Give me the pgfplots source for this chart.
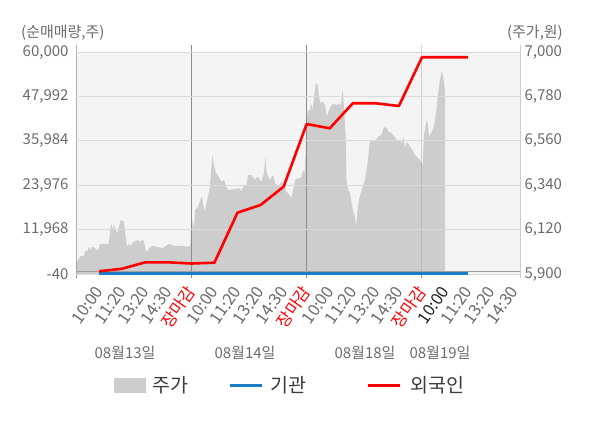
\documentclass[border=0pt]{standalone}
\usepackage{pgfplots}
\usepackage{pgfplotstable}
\pgfplotsset{compat=1.18}
\usepackage{fontspec}
\setmainfont{Noto Sans CJK KR}
\definecolor{txtgray}{HTML}{6B6B6B}
\definecolor{bggray}{HTML}{F4F4F4}
\definecolor{gridgray}{HTML}{DADADA}
\definecolor{areagray}{HTML}{CDCDCD}
\definecolor{sepgray}{HTML}{8C8C8C}
\definecolor{axgray}{HTML}{A0A0A0}
\definecolor{lightax}{HTML}{CCCCCC}
\definecolor{instblue}{HTML}{1C7DC6}
\definecolor{forred}{HTML}{FF0000}
\definecolor{darktxt}{HTML}{222222}
\definecolor{legtxt}{HTML}{3C3C3C}

% price (right axis)
\pgfplotstableread{
x v
0.00 5959
0.13 5974
0.20 5989
0.35 5989
0.42 6019
0.49 6010
0.56 6035
0.64 6019
0.69 6035
0.85 6027
0.95 6015
1.04 6049
1.43 6049
1.47 6110
1.53 6153
1.60 6118
1.65 6148
1.72 6118
1.79 6103
1.86 6134
1.94 6168
2.08 6159
2.15 6085
2.22 6035
2.30 6052
2.37 6035
2.44 6052
2.51 6060
2.66 6068
2.80 6060
2.87 6072
2.95 6060
3.02 6019
3.09 6010
3.16 6027
3.31 6039
3.52 6035
3.74 6027
4.03 6049
4.25 6039
4.68 6039
4.82 6035
4.96 6039
5.00 6176
5.03 6168
5.11 6126
5.17 6217
5.29 6233
5.41 6275
5.46 6283
5.51 6250
5.58 6209
5.65 6250
5.72 6283
5.80 6325
5.86 6415
5.91 6490
5.98 6440
6.08 6399
6.19 6382
6.30 6357
6.42 6366
6.52 6333
6.59 6316
6.81 6320
7.10 6325
7.17 6308
7.24 6333
7.38 6341
7.46 6391
7.60 6391
7.75 6366
7.89 6382
8.03 6357
8.15 6399
8.21 6481
8.27 6399
8.40 6366
8.54 6391
8.64 6349
8.76 6333
8.90 6357
9.05 6333
9.12 6308
9.26 6291
9.33 6275
9.41 6316
9.51 6366
9.62 6374
9.71 6374
9.77 6382
9.85 6415
9.91 6399
9.95 6481
10.00 6679
10.07 6713
10.14 6704
10.19 6746
10.26 6713
10.33 6787
10.40 6845
10.48 6837
10.53 6779
10.61 6746
10.69 6754
10.75 6746
10.81 6729
10.87 6679
10.94 6704
11.04 6729
11.15 6746
11.30 6737
11.41 6746
11.47 6729
11.56 6812
11.63 6713
11.69 6580
11.73 6366
11.80 6316
11.88 6300
11.95 6250
12.02 6209
12.09 6184
12.14 6134
12.19 6201
12.27 6267
12.34 6300
12.43 6333
12.53 6366
12.60 6415
12.67 6481
12.74 6556
12.82 6564
12.96 6556
13.10 6580
13.25 6589
13.35 6630
13.47 6622
13.54 6605
13.68 6597
13.83 6580
13.93 6556
14.04 6564
14.12 6548
14.19 6580
14.26 6531
14.36 6556
14.48 6531
14.59 6514
14.69 6490
14.79 6478
14.91 6465
15.03 6440
15.08 6580
15.17 6647
15.23 6663
15.31 6580
15.42 6605
15.49 6622
15.56 6655
15.64 6729
15.70 6795
15.78 6861
15.85 6902
15.92 6878
16.00 6812
}\pricetable

% foreign net buying (left axis)
\pgfplotstableread{
x v
1 700
2 1390
3 3120
4 3120
5 2800
6 3020
7 16540
8 18620
9 23570
10 40530
11 39360
12 46130
13 46130
14 45400
15 58570
16 58570
17 58570
}\foreigntable

% institutional net buying (left axis)
\pgfplotstableread{
x v
1 200
2 200
3 200
4 200
5 200
6 200
7 200
8 200
9 200
10 200
11 200
12 200
13 200
14 200
15 200
16 200
17 200
}\insttable

\begin{document}
\begin{tikzpicture}[x=1bp,y=1bp]
\useasboundingbox (0,0) rectangle (600,-428);
\pgfplotsset{
  base/.style={scale only axis, width=444bp, height=222bp,
    at={(76bp,-274bp)}, anchor=south west, xmin=0, xmax=19.25,
    scaled x ticks=false, scaled y ticks=false,
    tick label style={font=\fontsize{15bp}{15bp}\selectfont, text=txtgray},
    major tick length=0pt, axis line style={draw=none}},
}
% ---------- price axis (right) ----------
\begin{axis}[base, ymin=5900, ymax=7000,
  axis background/.style={fill=bggray},
  axis x line=none, axis y line*=right,
  clip mode=individual,
  axis on top,
  ytick={5900,6120,6340,6560,6780,7000},
  yticklabels={{5,900},{6,120},{6,340},{6,560},{6,780},{7,000}},
  yticklabel style={anchor=west, xshift=1bp},
  ymajorgrids, major grid style={gridgray, line width=1bp},
]
\addplot[fill=areagray, draw=none] table[x=x, y=v] {\pricetable} \closedcycle;
\pgfplotsinvokeforeach{0,5,10,15}{
  \draw[sepgray, line width=1bp] (axis cs:#1,7000) ++(0pt,7bp) -- (axis cs:#1,5900) -- ++(0pt,-4bp);
}
\draw[lightax, line width=1bp] (axis cs:19.25,7000) ++(0pt,7bp) -- (axis cs:19.25,5900) -- ++(0pt,-4bp);
\draw[axgray, line width=0.8bp] (axis cs:0,5900) -- (axis cs:19.25,5900);
\draw[axgray, line width=0.8bp] (axis cs:0,5900) ++(0pt,2.4bp) -- ++(444bp,0pt);
\end{axis}
% ---------- volume axis (left) ----------
\begin{axis}[base, ymin=-40, ymax=60000,
  axis x line*=bottom, axis y line*=left,
  ytick={-40,11968,23976,35984,47992,60000},
  yticklabels={-40,{11,968},{23,976},{35,984},{47,992},{60,000}},
  yticklabel style={anchor=east, xshift=-4bp},
  xtick={1,...,19},
  xticklabels={10:00,11:20,13:20,14:30,\textcolor{forred}{장마감},
    10:00,11:20,13:20,14:30,\textcolor{forred}{장마감},
    10:00,11:20,13:20,14:30,\textcolor{forred}{장마감},
    \textcolor{darktxt}{10:00},11:20,13:20,14:30},
  xticklabel style={yshift=-14bp, rotate=55, anchor=east, inner sep=0pt,
    font=\fontsize{16.5bp}{16.5bp}\selectfont},
]
\addplot[instblue, line width=3bp] table[x=x, y=v] {\insttable};
\addplot[forred, line width=2.6bp, line join=round] table[x=x, y=v] {\foreigntable};
\end{axis}
% ---------- titles ----------
\node[anchor=west, text=txtgray, font=\fontsize{15bp}{15bp}\selectfont, inner sep=0pt] at (21,-33) {(순매매량,주)};
\node[anchor=east, text=txtgray, font=\fontsize{15bp}{15bp}\selectfont, inner sep=0pt] at (563,-33) {(주가,원)};
% ---------- date labels ----------
\begin{scope}[every node/.style={text=txtgray, font=\fontsize{15bp}{15bp}\selectfont, inner sep=0pt}]
\node at (125,-353) {08월13일};
\node at (245,-353) {08월14일};
\node at (365,-353) {08월18일};
\node at (440,-353) {08월19일};
\end{scope}
% ---------- legend ----------
\fill[areagray] (114,-378) rectangle (146,-393);
\node[anchor=west, text=legtxt, font=\fontsize{19.5bp}{19.5bp}\selectfont, inner sep=0pt] at (152,-385.5) {주가};
\draw[instblue, line width=3.2bp] (230,-385.5) -- (262,-385.5);
\node[anchor=west, text=legtxt, font=\fontsize{19.5bp}{19.5bp}\selectfont, inner sep=0pt] at (270,-385.5) {기관};
\draw[forred, line width=3.2bp] (368,-385.5) -- (400,-385.5);
\node[anchor=west, text=legtxt, font=\fontsize{19.5bp}{19.5bp}\selectfont, inner sep=0pt] at (410,-385.5) {외국인};
\end{tikzpicture}
\end{document}
